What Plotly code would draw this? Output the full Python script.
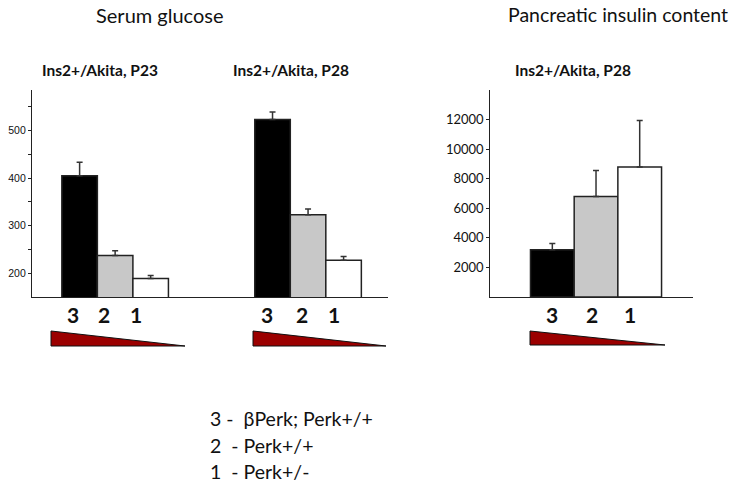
import plotly.graph_objects as go

W, H = 741, 487

# ---- data ----
genotype_labels = ["3", "2", "1"]
bar_colors = ["#000000", "#C8C8C8", "#FFFFFF"]

glucose_p23 = [405, 237, 189]
glucose_p23_err = [28, 10, 6]
glucose_p28 = [523, 323, 227]
glucose_p28_err = [16, 12, 8]

insulin_p28 = [3200, 6800, 8800]
insulin_p28_err = [420, 1760, 3130]

glucose_ticks = [200, 250, 300, 350, 400, 450, 500, 550]
glucose_ticktext = ["200", "", "300", "", "400", "", "500", ""]
insulin_ticks = [2000, 4000, 6000, 8000, 10000, 12000]

legend_lines = ["3 -\u00a0\u00a0βPerk; Perk+/+", "2\u00a0\u00a0- Perk+/+", "1\u00a0\u00a0- Perk+/-"]

# ---- layout helpers (pixel -> paper) ----
def px(x):
    return x / W

def py(y):
    return 1 - y / H

TXT = "Lato, 'Open Sans', sans-serif"

fig = go.Figure()

# left panel: group start positions (in bar-width units)
group_starts = [0.0, 5.43]
for start, vals, errs in [(group_starts[0], glucose_p23, glucose_p23_err),
                          (group_starts[1], glucose_p28, glucose_p28_err)]:
    for i in range(3):
        fig.add_trace(go.Bar(
            x=[start + i], y=[vals[i]],
            width=1.0, marker=dict(color=bar_colors[i], line=dict(color="#222", width=1.5)),
            error_y=dict(type="data", symmetric=False, array=[errs[i]], arrayminus=[0],
                         color="#333", thickness=1.5, width=3),
            xaxis="x", yaxis="y", showlegend=False, hoverinfo="skip"))

for i in range(3):
    fig.add_trace(go.Bar(
        x=[i], y=[insulin_p28[i]], width=1.0,
        marker=dict(color=bar_colors[i], line=dict(color="#222", width=1.5)),
        error_y=dict(type="data", symmetric=False, array=[insulin_p28_err[i]], arrayminus=[0],
                     color="#333", thickness=1.5, width=3),
        xaxis="x2", yaxis="y2", showlegend=False, hoverinfo="skip"))

ydom = [py(297), py(90)]
fig.update_layout(
    width=W, height=H, margin=dict(l=0, r=0, t=0, b=0),
    paper_bgcolor="white", plot_bgcolor="white", barmode="overlay",
    xaxis=dict(domain=[px(32), px(388)], range=[-1.34, 8.68], showticklabels=False,
               ticks="", showgrid=False, zeroline=False, showline=True,
               linecolor="#222", linewidth=1.2),
    yaxis=dict(domain=ydom, range=[150, 585], tickmode="array", tickvals=glucose_ticks,
               ticktext=glucose_ticktext, ticks="outside", ticklen=3, tickcolor="#222",
               showgrid=False, zeroline=False, showline=True, linecolor="#222", linewidth=1.2,
               tickfont=dict(family="Liberation Sans, Arial", size=10.5, color="#111")),
    xaxis2=dict(domain=[px(490.3), px(693)], range=[-1.42, 3.22], showticklabels=False,
                ticks="", showgrid=False, zeroline=False, showline=True,
                linecolor="#222", linewidth=1.2, anchor="y2"),
    yaxis2=dict(domain=ydom, range=[0, 14000], tickmode="array", tickvals=insulin_ticks,
                ticktext=[str(v) for v in insulin_ticks],
                ticks="outside", ticklen=3, tickcolor="#222", anchor="x2",
                showgrid=False, zeroline=False, showline=True, linecolor="#222", linewidth=1.2,
                tickfont=dict(family=TXT, size=13, color="#111")),
)

ann = []
# panel titles
ann.append(dict(x=px(160), y=py(15), text="Serum glucose", font=dict(family=TXT, size=20, color="#111")))
ann.append(dict(x=px(618), y=py(15), text="Pancreatic insulin content", font=dict(family=TXT, size=19.5, color="#111")))
# subplot titles
for cx, t in [(99.5, "Ins2+/Akita, P23"), (291, "Ins2+/Akita, P28"), (573, "Ins2+/Akita, P28")]:
    ann.append(dict(x=px(cx), y=py(70), text="<b>" + t + "</b>", font=dict(family=TXT, size=15.5, color="#111")))
# genotype number labels
for xs in [(73, 104, 136), (266.7, 301.7, 334.3), (552.3, 591.7, 630)]:
    for lx, lab in zip(xs, genotype_labels):
        ann.append(dict(x=px(lx), y=py(314), text="<b>" + lab + "</b>",
                        font=dict(family=TXT, size=21, color="#111")))
# legend lines
for yy, line in zip([418, 445, 471], legend_lines):
    ann.append(dict(x=px(208), y=py(yy), text=line, xanchor="left",
                    font=dict(family=TXT, size=19.5, color="#111")))
for a in ann:
    a.setdefault("xanchor", "center")
    a.update(xref="paper", yref="paper", yanchor="middle", showarrow=False)
fig.update_layout(annotations=ann)

# gradient triangles
shapes = []
for x0, x1, y0, y1 in [(51, 185, 331, 346), (253, 386, 331, 346), (530, 665, 331, 345)]:
    path = f"M {px(x0)},{py(y0)} L {px(x0)},{py(y1)} L {px(x1)},{py(y1)} Z"
    shapes.append(dict(type="path", path=path, xref="paper", yref="paper",
                       fillcolor="#9B0000", line=dict(color="#111", width=1)))
fig.update_layout(shapes=shapes)

fig.write_html("out.html", config={"displayModeBar": False},
               post_script="document.body.style.margin='0px';")
